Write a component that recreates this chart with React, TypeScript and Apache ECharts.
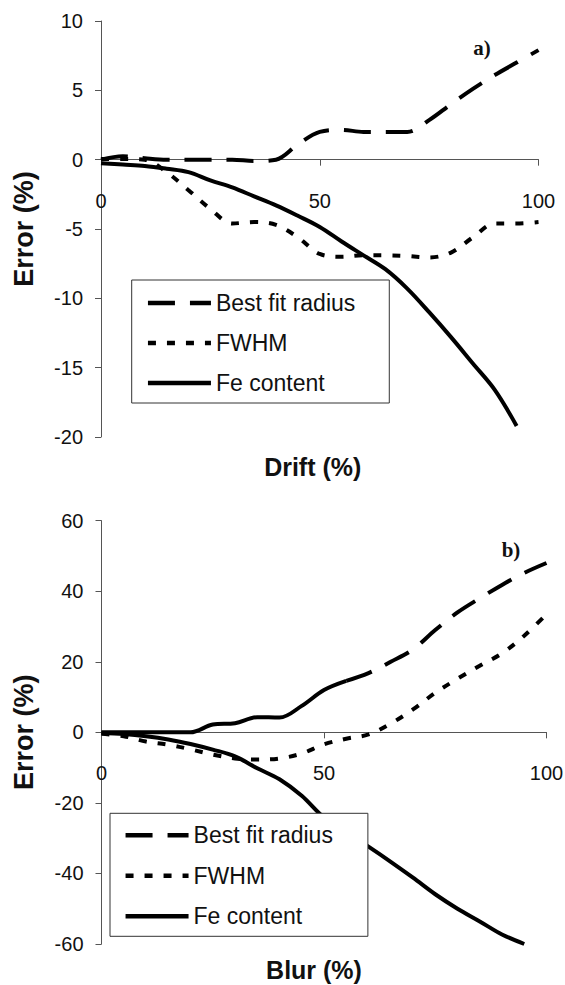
import React, { useEffect, useRef } from "react";
import * as echarts from "echarts";

// ---------- data ----------
const driftX = [0, 5, 10, 15, 20, 25, 30, 35, 40, 45, 50, 55, 60, 65, 70, 75, 80, 85, 90, 95, 100];
const driftBestFit = [0, 0.25, 0.1, 0, 0, 0, 0, -0.1, 0, 1.1, 2.0, 2.15, 2.0, 2.0, 2.0, 2.85, 4.0, 5.1, 6.1, 7.0, 7.9];
const driftFWHM = [0.05, 0.05, 0, -0.9, -2.2, -3.55, -4.6, -4.5, -4.7, -5.6, -6.8, -7.0, -6.9, -6.9, -6.95, -7.05, -6.7, -5.6, -4.6, -4.6, -4.5];
const driftFe = [-0.25, -0.35, -0.45, -0.65, -0.9, -1.5, -2.0, -2.65, -3.3, -4.05, -4.85, -5.9, -6.9, -7.9, -9.3, -11.0, -12.8, -14.7, -16.6, -19.2];

const blurX = [0, 5, 10, 15, 20, 25, 30, 35, 40, 45, 50, 55, 60, 65, 70, 75, 80, 85, 90, 95, 100];
const blurBestFit = [0, 0, 0, 0, 0, 2.2, 2.6, 4.3, 4.2, 7.5, 12.0, 14.6, 16.8, 20.0, 23.5, 29.0, 34.0, 38.0, 41.8, 45.2, 48.0];
const blurFWHM = [-0.4, -1.1, -2.6, -3.5, -4.8, -6.3, -7.4, -7.7, -7.4, -6.0, -3.4, -1.8, -0.6, 2.5, 6.5, 11.2, 15.2, 18.9, 22.4, 27.4, 33.5];
const blurFe = [-0.2, -0.5, -1.1, -2.0, -3.3, -4.9, -6.8, -10.2, -13.3, -18.0, -24.2, -28.3, -32.4, -36.7, -41.2, -45.9, -50.0, -53.6, -57.3, -60.0];
const blurSolidUntil = 55; // Best fit radius drawn continuous up to here (dense points)

const xTicks = [0, 50, 100];
const driftErrorTicks = [-20, -15, -10, -5, 0, 5, 10];
const blurErrorTicks = [-60, -40, -20, 0, 20, 40, 60];

const seriesNames = ["Best fit radius", "FWHM", "Fe content"];
const panelLabels = ["a)", "b)"];
const xTitles = ["Drift (%)", "Blur (%)"];
const yTitle = "Error (%)";

// ---------- layout / styles ----------
const FONT = "'Liberation Sans', Arial, Helvetica, sans-serif";
const axisColor = "#555";
const textColor = "#111";
const LONG_DASH = [27, 15];
const SHORT_DASH = [8, 11];

const grids = [
  { left: 101, top: 21, width: 437.5, height: 416 },
  { left: 101.5, top: 520.7, width: 445, height: 423.3 },
];

const pairs = (xs: number[], ys: number[]) => ys.map((y, i) => [xs[i], y]);

// distance from grid bottom to the y = 0 line (x axis crosses there)
const zeroOffset = (gi: number, ticks: number[]) => {
  const min = ticks[0];
  const max = ticks[ticks.length - 1];
  return -grids[gi].height * ((0 - min) / (max - min));
};

const makeX = (gridIndex: number, yTicks: number[], name: string, nameGap: number, padRight: number) => ({
  type: "value",
  gridIndex,
  position: "bottom",
  offset: zeroOffset(gridIndex, yTicks),
  min: xTicks[0],
  max: xTicks[xTicks.length - 1],
  interval: xTicks[1] - xTicks[0],
  axisLine: { show: true, onZero: false, lineStyle: { color: axisColor, width: 1 } },
  axisTick: { show: true, length: 6, inside: false, lineStyle: { color: axisColor, width: 1 } },
  axisLabel: { fontSize: 20, color: textColor, margin: 31, fontFamily: FONT },
  splitLine: { show: false },
  name,
  nameLocation: "middle",
  nameGap,
  nameTextStyle: {
    fontSize: 25,
    fontWeight: "bold",
    color: textColor,
    fontFamily: FONT,
    padding: [0, padRight, 0, 0],
  },
});

const makeY = (gridIndex: number, ticks: number[], nameGap: number) => ({
  type: "value",
  gridIndex,
  min: ticks[0],
  max: ticks[ticks.length - 1],
  interval: ticks[1] - ticks[0],
  axisLine: { show: true, onZero: false, lineStyle: { color: axisColor, width: 1 } },
  axisTick: { show: true, length: 6, inside: false, lineStyle: { color: axisColor, width: 1 } },
  axisLabel: { fontSize: 20, color: textColor, margin: 18, fontFamily: FONT },
  splitLine: { show: false },
  name: yTitle,
  nameLocation: "middle",
  nameGap,
  nameTextStyle: { fontSize: 27, fontWeight: "bold", color: textColor, fontFamily: FONT },
});

const line = (name: string, idx: number, data: number[][], type: any, z = 2) => ({
  type: "line",
  name,
  xAxisIndex: idx,
  yAxisIndex: idx,
  data,
  smooth: 0.35,
  symbol: "none",
  showSymbol: false,
  color: "#000",
  itemStyle: { color: "#000" },
  lineStyle: { color: "#000", width: 4, type, cap: "butt" },
  z,
});

const legendBase = {
  orient: "vertical",
  data: seriesNames,
  itemWidth: 63,
  itemHeight: 14,
  borderColor: "#333",
  borderWidth: 1,
  borderRadius: 0,
  backgroundColor: "#fff",
  selectedMode: false,
  itemStyle: { color: "rgba(0,0,0,0)", borderWidth: 0, opacity: 0 },
  lineStyle: { width: 4.5, color: "#000" },
  textStyle: { fontSize: 23, color: textColor, fontFamily: FONT, lineHeight: 24 },
  z: 10,
};

const blurSolidX = blurX.filter((x) => x <= blurSolidUntil);
const blurDashX = blurX.filter((x) => x >= blurSolidUntil);
const blurDashStart = blurX.indexOf(blurSolidUntil);

const labelFont = "bold 21px 'Liberation Serif', 'Times New Roman', serif";

const option: any = {
  animation: false,
  backgroundColor: "#fff",
  grid: grids.map((g) => ({ ...g, containLabel: false, outerBoundsMode: "none" })),
  xAxis: [makeX(0, driftErrorTicks, xTitles[0], 295, 14), makeX(1, blurErrorTicks, xTitles[1], 225, 20)],
  yAxis: [makeY(0, driftErrorTicks, 64), makeY(1, blurErrorTicks, 64)],
  legend: [
    { ...legendBase, left: 131.7, top: 280, itemGap: 16, padding: [11, 34, 8, 14] },
    { ...legendBase, left: 110, top: 813.3, itemGap: 16.5, padding: [10, 35, 8, 13.3] },
  ],
  series: [
    line(seriesNames[0], 0, pairs(driftX, driftBestFit), LONG_DASH),
    line(seriesNames[1], 0, pairs(driftX, driftFWHM), SHORT_DASH),
    line(seriesNames[2], 0, pairs(driftX, driftFe), "solid"),
    line(seriesNames[0], 1, pairs(blurDashX, blurBestFit.slice(blurDashStart)), LONG_DASH),
    line(seriesNames[0], 1, pairs(blurSolidX, blurBestFit.slice(0, blurSolidX.length)), "solid"),
    line(seriesNames[1], 1, pairs(blurX, blurFWHM), SHORT_DASH),
    line(seriesNames[2], 1, pairs(blurX, blurFe), "solid"),
  ],
  graphic: [
    {
      type: "text",
      x: 482,
      y: 48,
      style: { text: panelLabels[0], font: labelFont, fill: textColor, align: "center", verticalAlign: "middle" },
    },
    {
      type: "text",
      x: 511,
      y: 550,
      style: { text: panelLabels[1], font: labelFont, fill: textColor, align: "center", verticalAlign: "middle" },
    },
  ],
};

export default function App() {
  const ref = useRef<HTMLDivElement>(null);
  useEffect(() => {
    if (!ref.current) return;
    const chart = echarts.init(ref.current, null, { renderer: "svg" });
    chart.setOption(option);
    return () => chart.dispose();
  }, []);
  return (
    <div
      ref={ref}
      style={{ position: "absolute", left: 0, top: 0, width: 565, height: 985, background: "#fff" }}
    />
  );
}
